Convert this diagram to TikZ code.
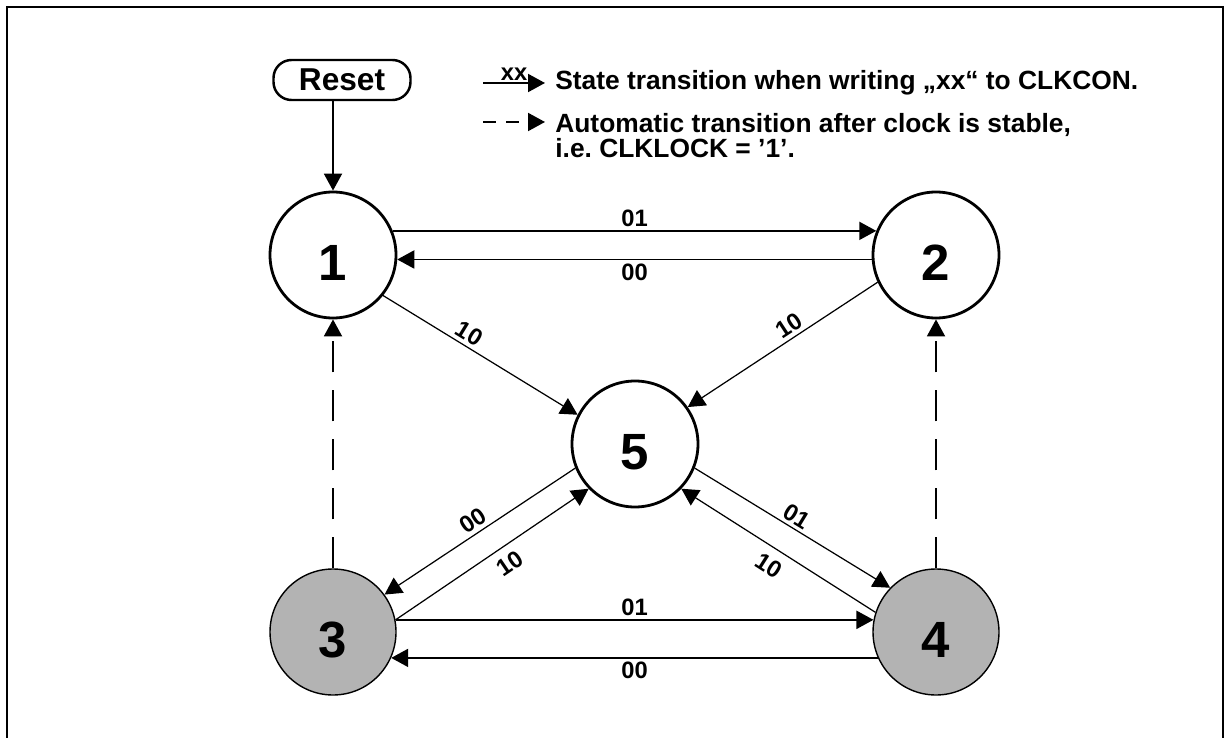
\documentclass[tikz,border=0pt]{standalone}
\usepackage{fontspec}
\setmainfont{Liberation Sans}
\usetikzlibrary{arrows.meta, positioning, calc}
\definecolor{stategray}{RGB}{179, 179, 179}

\begin{document}
\begin{tikzpicture}[
    state/.style={draw, circle, line width=1.6pt, minimum size=2.52cm, inner sep=0pt, text height=1.02cm, font=\fontsize{29}{29}\selectfont\bfseries},
    lowstate/.style={state, fill=stategray, line width=0.8pt},
    resetbox/.style={draw, rounded corners=0.36cm, line width=1.4pt, minimum width=2.74cm, minimum height=0.8cm, font=\fontsize{18}{18}\selectfont\bfseries},
    arrow/.style={-{Triangle[length=3.4mm, width=3.6mm]}, line width=1.1pt},
    thinarrow/.style={arrow, line width=0.7pt},
    autoarrow/.style={arrow, dash pattern=on 0.62cm off 0.36cm},
    lbl/.style={font=\fontsize{13.5}{13.5}\selectfont\bfseries, inner sep=2pt},
    legend/.style={font=\fontsize{15}{14.2}\selectfont\bfseries, align=left, inner sep=0pt}
]
\useasboundingbox (0,0) rectangle (24.62,14.74);

% frame, open at the bottom
\draw[line width=1.2pt] (0.14,-0.5) -- (0.14,14.6) -- (24.46,14.6) -- (24.46,-0.5);

% states
\node[resetbox] (reset) at (6.84,13.14) {Reset};
\node[state] (one) at (6.66,9.64) {1};
\node[state] (two) at (18.72,9.64) {2};
\node[state] (five) at (12.70,5.86) {5};
\node[lowstate] (three) at (6.66,2.10) {3};
\node[lowstate] (four) at (18.72,2.10) {4};

% legend
\coordinate (xxA) at (9.66,13.08);
\coordinate (xxB) at (10.9,13.08);
\coordinate (autoA) at (9.66,12.30);
\coordinate (autoB) at (10.9,12.30);
\draw[arrow] (xxA) -- node[lbl, above, inner sep=1pt] (xxlbl) {xx} (xxB);
\draw[arrow, dash pattern=on 0.26cm off 0.2cm] (autoA) -- (autoB);
\node[legend, right=0.2cm of xxB] (xxtext) {State transition when writing „xx“ to CLKCON.};
\node[legend, anchor=north west] (autotext) at (11.1,12.47) {Automatic transition after clock is stable,\\i.e.\ CLKLOCK = ’1’.};

% transitions
\draw[arrow] (reset.south -| one.north) -- (one.north);
\draw[arrow] (one.22) -- node[lbl, above] (l12) {01} (two.158);
\draw[arrow] (two.184) -- node[lbl, below] (l21) {00} (one.-4);
\draw[arrow] (three.11) -- node[lbl, above] (l34) {01} (four.169);
\draw[arrow] (four.204) -- node[lbl, below] (l43) {00} (three.-24);

\draw[thinarrow] (one.-39) -- node[lbl, sloped, above, pos=0.41] (l15) {10} (five.153);
\draw[thinarrow] (two.205) -- node[lbl, sloped, above, pos=0.43] (l25) {10} (five.35);
\draw[thinarrow] (five.202) -- node[lbl, sloped, above, pos=0.5] (l53) {00} (three.36);
\draw[thinarrow] (three.11) -- node[lbl, sloped, below, pos=0.54, inner sep=5pt] (l35) {10} (five.224);
\draw[thinarrow] (five.-22) -- node[lbl, sloped, above, pos=0.49] (l54) {01} (four.136);
\draw[thinarrow] (four.162) -- node[lbl, sloped, below, pos=0.5, inner sep=5pt] (l45) {10} (five.-44);

\draw[autoarrow] (three.north) -- (one.south);
\draw[autoarrow] (four.north) -- (two.south);

\end{tikzpicture}
\end{document}
